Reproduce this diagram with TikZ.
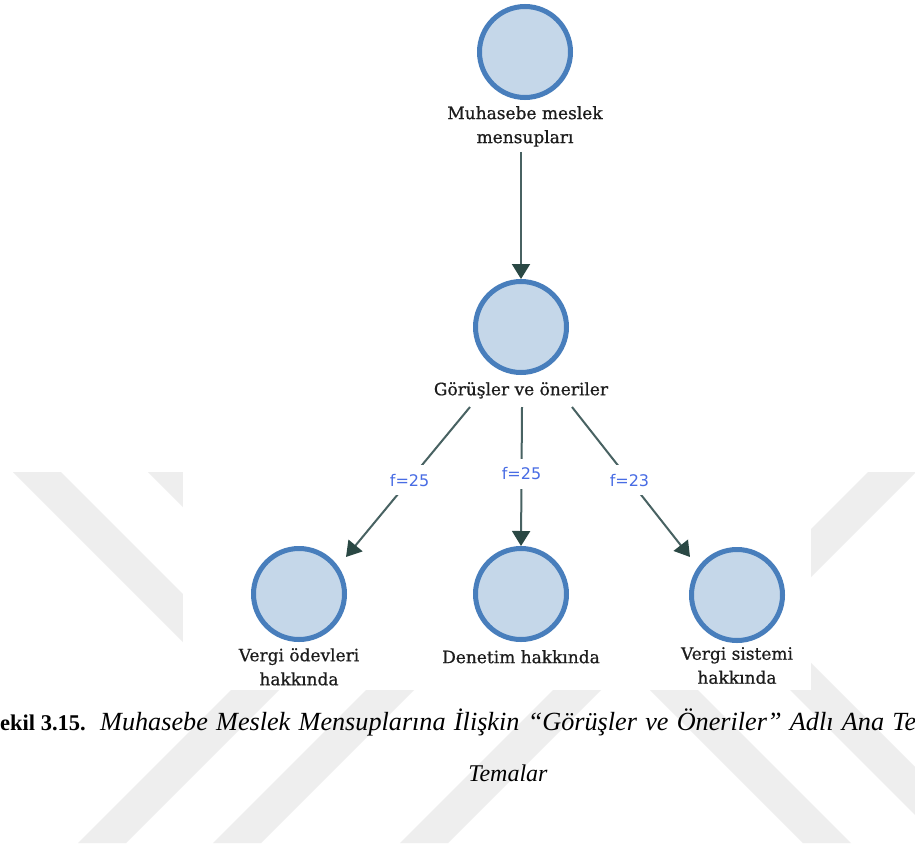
\documentclass[tikz,border=0pt]{standalone}
\usepackage{fontspec}
\setmainfont{Liberation Serif}
\newfontfamily\nodefont[FakeBold=0.7]{DejaVu Serif}
\newfontfamily\freqfont{DejaVu Sans}
\usetikzlibrary{arrows.meta,calc}

\definecolor{ringblue}{RGB}{72,126,188}
\definecolor{discfill}{RGB}{197,215,233}
\definecolor{linkline}{RGB}{72,98,98}
\definecolor{linkhead}{RGB}{42,72,68}
\definecolor{freqblue}{RGB}{72,108,228}
\definecolor{markgray}{RGB}{238,238,238}
\definecolor{labelink}{RGB}{28,28,28}

\begin{document}
\begin{tikzpicture}[x=1pt,y=-1pt,
  theme/.style={circle, draw=ringblue, fill=discfill, line width=5pt,
    minimum size=91pt, inner sep=0pt},
  themelabel/.style={font=\nodefont\fontsize{17}{24}\selectfont, text=labelink,
    align=center, inner sep=0pt, anchor=north},
  link/.style={draw=linkline, line width=2pt,
    -{Triangle[length=15pt,width=18pt,color=linkhead]}},
  freq/.style={font=\freqfont\fontsize{16}{18}\selectfont, text=freqblue,
    fill=white, inner xsep=3pt, inner ysep=9pt},
  band/.style={fill=markgray}
]
\useasboundingbox (0,0) rectangle (915,846);
\fill[white] (0,0) rectangle (915,846);

% background chevron pattern
\begin{scope}
  \clip (0,472) rectangle (915,843);
  % ">" chevrons (upper arm starts at x0 on the top edge, tip at y=690)
  \foreach \x in {13,148,335}{
    \fill[band] (\x,472) -- (\x+218,690) -- (\x+65,843) -- (\x+113,843)
      -- (\x+266,690) -- (\x+48,472) -- cycle;
  }
  % "<" chevron on the right
  \fill[band] (868,472) -- (650,690) -- (803,843) -- (851,843)
    -- (698,690) -- (916,472) -- cycle;
  % lone stroke at the lower right
  \fill[band] (700,600) -- (943,843) -- (991,843) -- (748,600) -- cycle;
\end{scope}

% diagram panel
\fill[white] (183,0) rectangle (811,690);

% theme nodes
\node[theme] (muh) at (525,52) {};
\node[themelabel] (muhlbl) at (525,106) {Muhasebe meslek\\mensupları};
\node[theme] (gor) at (521,327) {};
\node[themelabel] (gorlbl) at (521,382) {Görüşler ve öneriler};
\node[theme] (vod) at (299,594) {};
\node[themelabel] (vodlbl) at (299,648) {Vergi ödevleri\\hakkında};
\node[theme] (den) at (521,594) {};
\node[themelabel] (denlbl) at (521,650) {Denetim hakkında};
\node[theme] (vsi) at (737,595) {};
\node[themelabel] (vsilbl) at (737,647) {Vergi sistemi\\hakkında};

% connector ends
\coordinate (g1) at ($(gor)+(-51,80)$);
\coordinate (g2) at ($(gor)+(1,80)$);
\coordinate (g3) at ($(gor)+(51,80)$);
\coordinate (e1) at ($(vod)+(47,-37)$);
\coordinate (e3) at ($(vsi)+(-47,-38)$);

% connectors
\draw[link, shorten <=5pt] (muhlbl.south -| gor) -- (gor.north);
\draw[link] (g1) -- node[freq, pos=0.487] (f1) {f=25} (e1);
\draw[link] (g2) -- node[freq, pos=0.48] (f2) {f=25} (den.north);
\draw[link] (g3) -- node[freq, pos=0.487] (f3) {f=23} (e3);

% figure caption
\node[anchor=base west, inner sep=0pt] (capline) at (-12.5,730)
  {{\fontsize{22.5}{27}\selectfont\bfseries Şekil\hspace{5.6pt}3.15.}\hspace{14.4pt}%
   {\fontsize{26.2}{30}\selectfont\itshape\spaceskip=8.3pt Muhasebe Meslek Mensuplarına İlişkin “Görüşler ve Öneriler” Adlı Ana Tema}};
\node[anchor=base, inner sep=0pt, font=\fontsize{24}{28}\selectfont]
  (capend) at (508,781) {\textit{Temalar}};
\end{tikzpicture}
\end{document}
